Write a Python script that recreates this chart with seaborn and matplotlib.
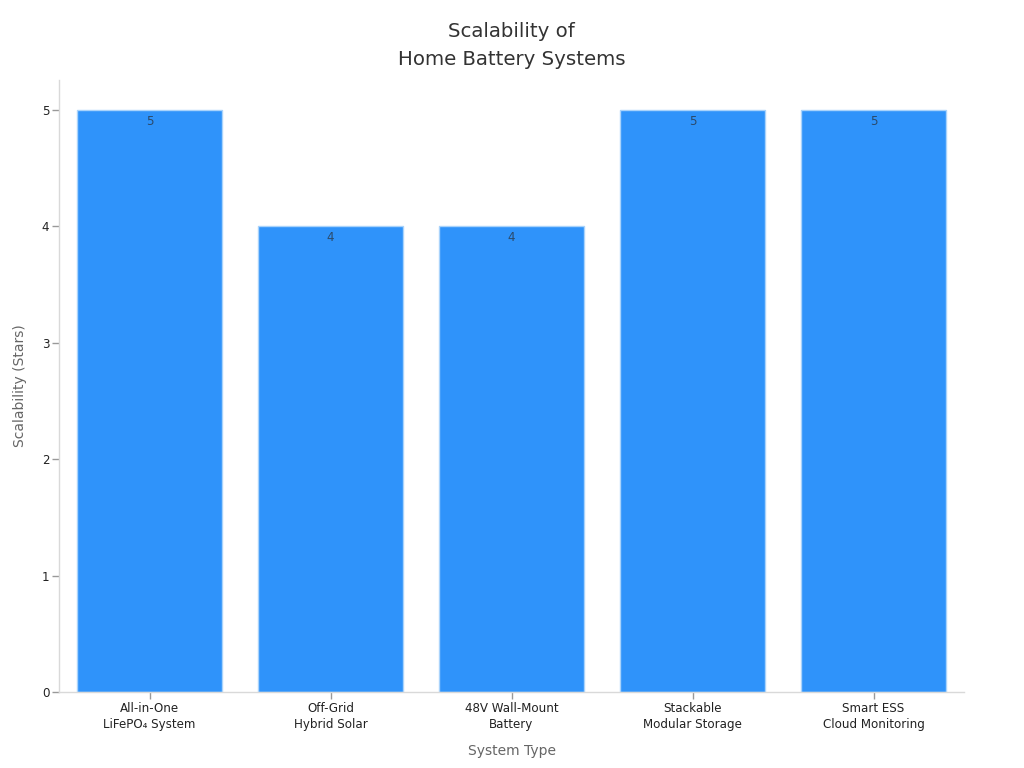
import matplotlib
matplotlib.use("Agg")
import matplotlib.pyplot as plt
import pandas as pd
import seaborn as sns

systems = ["All-in-One\nLiFePO₄ System", "Off-Grid\nHybrid Solar", "48V Wall-Mount\nBattery",
           "Stackable\nModular Storage", "Smart ESS\nCloud Monitoring"]
stars = [5, 4, 4, 5, 5]

sns.set_theme(style="white")
plt.rcParams['font.family'] = ['DejaVu Sans']

df = pd.DataFrame({"system": systems, "stars": stars})

fig, ax = plt.subplots(figsize=(10.24, 7.68), dpi=100)
sns.barplot(data=df, x="system", y="stars", color="#2f93fa", saturation=1, width=0.796,
            edgecolor="#a9d3fb", linewidth=1, ax=ax)

ax.set_xlim(-0.5, 4.5)
ax.set_ylim(0, 5.255)
ax.set_yticks([0, 1, 2, 3, 4, 5])

# labels sit just inside the top of each bar
for container in ax.containers:
    ax.bar_label(container, label_type="edge", padding=-13, fontsize=8.6, color="#2b4a6b")

ax.set_title("Scalability of\nHome Battery Systems", fontsize=14.25, color="#333333", pad=11,
             linespacing=1.55)
ax.set_xlabel("System Type", fontsize=10, color="#666666", labelpad=9.5)
ax.set_ylabel("Scalability (Stars)", fontsize=10, color="#666666", labelpad=10.5)
ax.tick_params(axis="x", length=5, width=1, color="#999999", labelsize=8.6, labelcolor="#222222",
               bottom=True, pad=2.5)
ax.tick_params(axis="y", length=5, width=1, color="#999999", labelsize=8.6, labelcolor="#222222",
               left=True, pad=2)
for lbl in ax.get_xticklabels():
    lbl.set_linespacing(1.25)
sns.despine(ax=ax)
for side in ["left", "bottom"]:
    ax.spines[side].set_color("#d9d9d9")
    ax.spines[side].set_linewidth(1)

fig.subplots_adjust(left=59 / 1024, right=964 / 1024, top=1 - 80 / 768, bottom=1 - 692 / 768)
fig.savefig("out.png", dpi=100)
